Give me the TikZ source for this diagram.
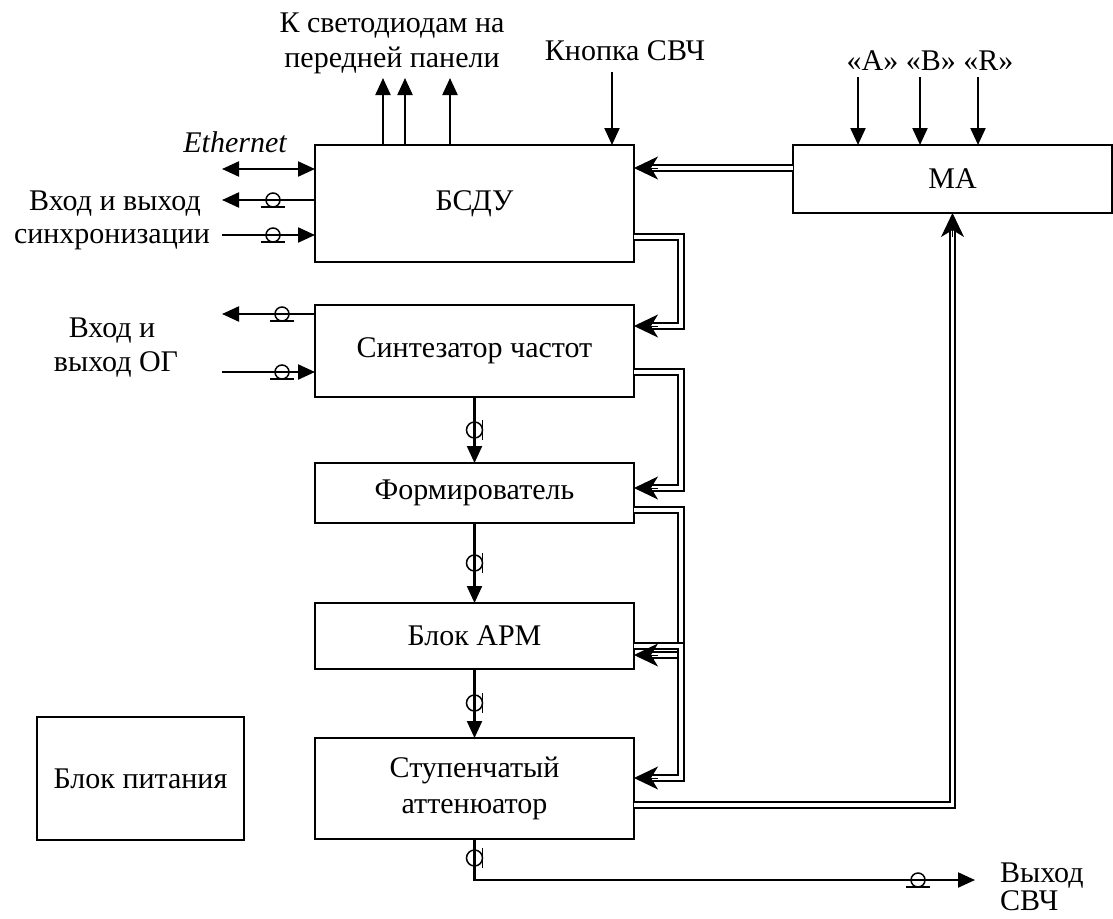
\documentclass[tikz,border=0pt]{standalone}
\usepackage{fontspec}
\setmainfont{Liberation Serif}
\usetikzlibrary{arrows.meta,calc}
\begin{document}
\begin{tikzpicture}[x=1pt,y=-1pt,
  every node/.style={font=\fontsize{30}{36}\selectfont},
  box/.style={draw, line width=2.2pt, inner sep=0pt, outer sep=0pt, anchor=north west, align=center, minimum width=319pt},
  txt/.style={inner sep=0pt, anchor=base},
  sarr/.style={line width=2.2pt, -{Triangle[length=17pt,width=15pt]}},
  barr/.style={line width=2.2pt, {Triangle[length=17pt,width=15pt]}-{Triangle[length=17pt,width=15pt]}},
  dline/.style={double, line width=2pt, double distance=3.2pt, shorten >=14pt},
  dtip/.style={line width=1pt, -{Stealth[length=24pt,width=23pt,inset=7pt]}},
  hcoax/.pic={\draw[line width=1.5pt] (0,0) circle[radius=7pt];
              \draw[line width=1.8pt] (-12pt,-7pt) -- (12pt,-7pt);},
  vcoax/.pic={\draw[line width=1.5pt] (0,0) circle[radius=8pt];
              \draw[line width=1.8pt] (8pt,-10pt) -- (8pt,10pt);}
]
\useasboundingbox (0,0) rectangle (1113,918);

% blocks
\node[box, minimum height=117pt] (bsdu) at (315,145) {БСДУ};
\node[box, minimum height=68pt] (ma) at (793,145) {МА};
\node[box, minimum height=92pt] (synth) at (315,305) {Синтезатор частот};
\node[box, minimum height=60pt] (form) at (315,463) {Формирователь};
\node[box, minimum height=66pt] (arm) at (315,603) {Блок АРМ};
\node[box, minimum height=101pt] (att) at (315,738) {Ступенчатый\\аттенюатор};
\node[box, minimum width=207pt, minimum height=123pt] (psu) at (37,717) {Блок питания};

% labels
\node[txt] (l1) at (392,32) {К светодиодам на};
\node[txt] (l2) at (392,67) {передней панели};
\node[txt] (l3) at (625,60) {Кнопка СВЧ};
\node[txt] (l4) at (930,70) {«A» «B» «R»};
\node[txt] (l5) at (235,152) {\itshape Ethernet};
\node[txt] (l6) at (115,210) {Вход и выход};
\node[txt] (l7) at (112,243) {синхронизации};
\node[txt] (l8) at (112,337) {Вход и};
\node[txt] (l9) at (116,371) {выход ОГ};
\node[txt, anchor=base west] (l10) at (1000,882) {Выход};
\node[txt, anchor=base west] (l11) at (1000,910) {СВЧ};

% free ends
\coordinate (led1) at (383,78);
\coordinate (led2) at (405,78);
\coordinate (led3) at (450,78);
\coordinate (btn) at (612,72);
\coordinate (ia) at (858,77);
\coordinate (ib) at (920,77);
\coordinate (ir) at (978,77);
\coordinate (eth) at (222,169);
\coordinate (so) at (222,200);
\coordinate (si) at (222,235);
\coordinate (oo) at (222,314);
\coordinate (oi) at (222,372);
\coordinate (out) at (975,880);
\coordinate (bus) at (681,0);

% single arrows
\draw[sarr] (bsdu.north -| led1) -- (led1);
\draw[sarr] (bsdu.north -| led2) -- (led2);
\draw[sarr] (bsdu.north -| led3) -- (led3);
\draw[sarr] (btn) -- (bsdu.north -| btn);
\draw[sarr] (ia) -- (ma.north -| ia);
\draw[sarr] (ib) -- (ma.north -| ib);
\draw[sarr] (ir) -- (ma.north -| ir);
\draw[barr] (eth) -- (bsdu.west |- eth);
\draw[sarr] (bsdu.west |- so) -- (so);
\draw[sarr] (si) -- (bsdu.west |- si);
\draw[sarr] (synth.west |- oo) -- (oo);
\draw[sarr] (oi) -- (synth.west |- oi);
\draw[sarr] (synth.south) -- (form.north);
\draw[sarr] (form.south) -- (arm.north);
\draw[sarr] (arm.south) -- (att.north);
\draw[sarr] (att.south) |- (out);

% coax symbols
\pic at (273,200) {hcoax};
\pic at (273,235) {hcoax};
\pic at (282,314) {hcoax};
\pic at (282,372) {hcoax};
\pic at (918,880) {hcoax};
\pic at (474.5,430) {vcoax};
\pic at (474.5,563) {vcoax};
\pic at (474.5,703) {vcoax};
\pic at (474.5,858) {vcoax};

% double (control bus) connectors
\draw[dline] (ma.west |- 0,168) -- (bsdu.east |- 0,168);
\draw[dline] (bsdu.east |- 0,237) -| (bus |- 0,326) -- (synth.east |- 0,326);
\draw[dline] (synth.east |- 0,372) -| (bus |- 0,488) -- (form.east |- 0,488);
\draw[dline] (form.east |- 0,510) -| (bus |- 0,655) -- (arm.east |- 0,655);
\draw[dline] (arm.east |- 0,646) -| (bus |- 0,778) -- (att.east |- 0,778);
\draw[dline] (att.east |- 0,805) -| (ma.south);

% arrow tips of the double connectors
\draw[dtip] ($(bsdu.east |- 0,168)+(24,0)$) -- (bsdu.east |- 0,168);
\draw[dtip] ($(synth.east |- 0,326)+(24,0)$) -- (synth.east |- 0,326);
\draw[dtip] ($(form.east |- 0,488)+(24,0)$) -- (form.east |- 0,488);
\draw[dtip] ($(arm.east |- 0,655)+(24,0)$) -- (arm.east |- 0,655);
\draw[dtip] ($(att.east |- 0,778)+(24,0)$) -- (att.east |- 0,778);
\draw[dtip] ($(ma.south)+(0,24)$) -- (ma.south);
\end{tikzpicture}
\end{document}
